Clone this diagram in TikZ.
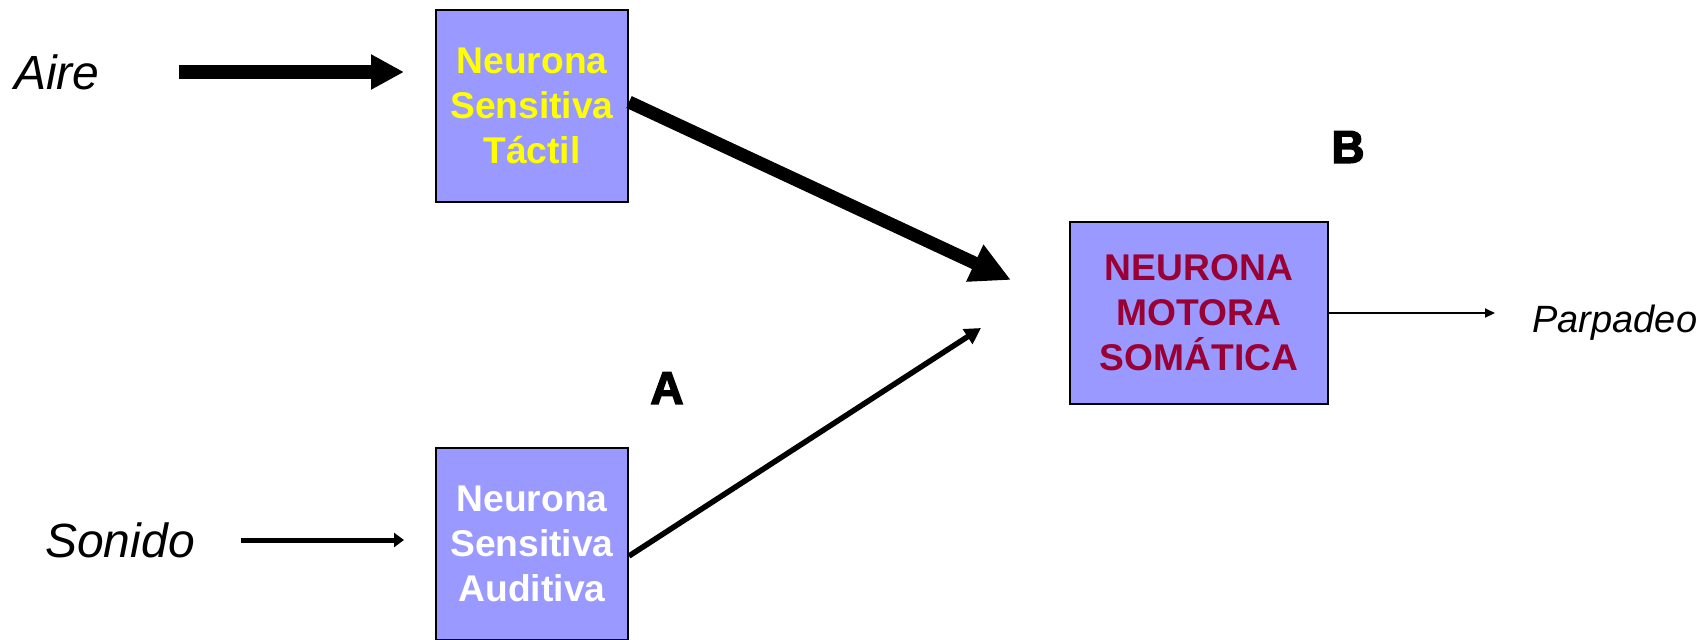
\documentclass[tikz,border=0pt]{standalone}
\usepackage{fontspec}
\setmainfont{Liberation Sans}
\newfontfamily\heavyfont{Liberation Sans Bold}[FakeBold=3]
\usetikzlibrary{arrows.meta}
\definecolor{boxfill}{HTML}{9999FF}
\definecolor{motorred}{HTML}{990033}
\definecolor{tactyellow}{HTML}{FFFF00}
\begin{document}
\begin{tikzpicture}[x=0.5pt,y=-0.5pt,
  neuron/.style={draw=black, line width=1pt, fill=boxfill, align=center,
    font=\bfseries\fontsize{18.6}{22.5}\selectfont, inner sep=0pt,
    minimum width=96pt, minimum height=96pt},
  sidelabel/.style={font=\itshape\fontsize{24}{28}\selectfont, inner sep=0pt},
  outlabel/.style={font=\itshape\fontsize{19}{22}\selectfont, inner sep=0pt},
  letterlabel/.style={font=\heavyfont\fontsize{23}{26}\selectfont, inner sep=0pt},
  bigarrow/.style={line width=7pt, -{Triangle[length=16.5pt,width=16.5pt]}},
  diagarrow/.style={line width=6.5pt, -{Triangle[length=20pt,width=19pt]}},
  midarrow/.style={line width=2.75pt, -{Triangle[length=8pt,width=8.5pt]}},
  smallarrow/.style={line width=2.5pt, -{Triangle[length=5pt,width=7pt]}},
  thinarrow/.style={line width=1pt, -{Triangle[length=5pt,width=4.5pt]}}
]
\useasboundingbox (0,0) rectangle (1704,639);

\node[sidelabel] (aire) at (57,72) {Aire};
\node[sidelabel] (sonido) at (120,540) {Sonido};
\node[outlabel, anchor=west] (parp) at (1532,323) {Parpadeo};

\node[neuron, text=tactyellow] (tactil) at (532,106) {Neurona\\Sensitiva\\T\'actil};
\node[neuron, text=white] (auditiva) at (532,544) {Neurona\\Sensitiva\\Auditiva};
\node[neuron, text=motorred, minimum width=129pt, minimum height=91pt] (motor) at (1199,313) {NEURONA\\MOTORA\\SOM\'ATICA};

\node[letterlabel] (labA) at (667,388) {A};
\node[letterlabel] (labB) at (1348,147) {B};

\coordinate (tipT) at (1011,280);
\coordinate (tipA) at (981,328);

\draw[bigarrow, shorten <=39.5pt, shorten >=15.5pt] (aire.east) -- (aire.east -| tactil.west);
\draw[smallarrow, shorten <=23pt, shorten >=15.5pt] (sonido.east) -- (sonido.east -| auditiva.west);
\draw[diagarrow] ([yshift=2pt]tactil.east) -- (tipT);
\draw[midarrow] ([yshift=-6pt]auditiva.east) -- (tipA);
\draw[thinarrow, shorten >=18.5pt] (motor.east) -- (motor.east -| parp.west);
\end{tikzpicture}
\end{document}
